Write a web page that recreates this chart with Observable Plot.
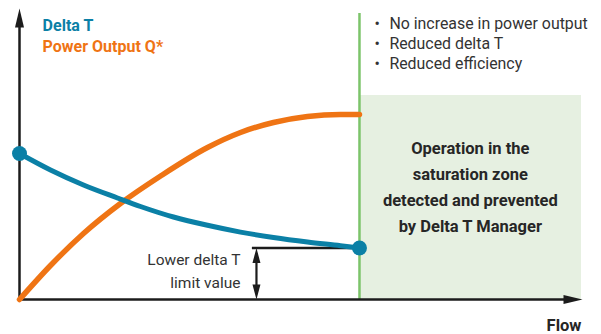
<!DOCTYPE html>
<html>
<head>
<meta charset="utf-8">
<script src="https://cdn.jsdelivr.net/npm/d3@7"></script>
<script src="https://cdn.jsdelivr.net/npm/@observablehq/plot@0.6"></script>
<style>
  html, body { margin: 0; padding: 0; background: #fff; }
  #chart svg { display: block; }
</style>
</head>
<body>
<div id="chart"></div>
<script>
// Flow on the x axis (100 = start of the saturation zone), relative values on y
const powerFlow   = [0, 9.12, 18.82, 29.7, 41.5, 55.3, 65, 74.7, 84.7, 94.4, 100];
const powerOutput = [0, 11.68, 22.68, 32.99, 42.44, 52.23, 57.39, 60.82, 62.89, 63.57, 63.57];

const deltaFlow   = [0, 9.12, 18.82, 28.82, 35.59, 45.29, 55.29, 65, 74.71, 84.71, 94.41, 100];
const deltaT      = [50.17, 44.5, 39.35, 34.88, 31.96, 28.35, 25.5, 23.16, 21.31, 19.76, 18.49, 17.7];

const seriesLabels = ["Delta T", "Power Output Q*"];
const notes = ["No increase in power output", "Reduced delta T", "Reduced efficiency"];
const zoneText = ["Operation in the", "saturation zone", "detected and prevented", "by Delta T Manager"];
const limitLabel = ["Lower delta T", "limit value"];
const axisTitle = "Flow";

const blue = "#0b80a6";
const orange = "#ef7414";
const green = "#7cc46a";
const zoneFill = "#e6f0e1";
const ink = "#1c1c1c";
const textGrey = "#333333";

const xMax = 165.6;
const yMax = 100;
const saturation = deltaFlow[deltaFlow.length - 1];
const lowerLimit = deltaT[deltaT.length - 1];

const power = powerFlow.map((f, i) => ({flow: f, value: powerOutput[i]}));
const delta = deltaFlow.map((f, i) => ({flow: f, value: deltaT[i]}));

// filled, elongated arrowhead with its tip at the origin, pointing up
const head = (len, half) => ({
  draw(ctx) {
    ctx.moveTo(0, 0);
    ctx.lineTo(-half, len);
    ctx.lineTo(half, len);
    ctx.closePath();
  }
});
const axisHead = head(19, 4.5);
const dimHead = head(15, 4);

const font = "Roboto, 'Noto Sans', sans-serif";

const chart = Plot.plot({
  width: 601,
  height: 334,
  marginLeft: 19,
  marginRight: 19,
  marginTop: 8,
  marginBottom: 35,
  x: {domain: [0, xMax], axis: null},
  y: {domain: [0, yMax], axis: null},
  style: {fontFamily: font, background: "#fff", overflow: "visible"},
  marks: [
    // saturation zone
    Plot.rect([0], {x1: saturation, x2: 165.3, y1: 0, y2: 70.1, fill: zoneFill}),
    Plot.ruleX([saturation], {y1: 0, y2: 98.3, stroke: green, strokeWidth: 2.5}),

    // axes with arrowheads
    Plot.ruleY([0], {x1: 0, x2: xMax - 4, stroke: ink, strokeWidth: 2.5}),
    Plot.ruleX([0], {y1: 0, y2: yMax - 4, stroke: ink, strokeWidth: 2.5}),
    Plot.dot([0], {x: xMax, y: 0, symbol: axisHead, rotate: 90, fill: ink, stroke: "none"}),
    Plot.dot([0], {x: 0, y: yMax, symbol: axisHead, rotate: 0, fill: ink, stroke: "none"}),

    // lower delta T limit and its dimension arrow
    Plot.ruleY([lowerLimit], {x1: 68.5, x2: saturation, stroke: ink, strokeWidth: 2.5}),
    Plot.ruleX([69.7], {y1: 2, y2: lowerLimit - 2, stroke: ink, strokeWidth: 2.2}),
    Plot.dot([0], {x: 69.7, y: lowerLimit, symbol: dimHead, rotate: 0, fill: ink, stroke: "none"}),
    Plot.dot([0], {x: 69.7, y: 0, symbol: dimHead, rotate: 180, fill: ink, stroke: "none"}),

    // curves
    Plot.line(power, {x: "flow", y: "value", stroke: orange, strokeWidth: 5.5, curve: "monotone-x"}),
    Plot.line(delta, {x: "flow", y: "value", stroke: blue, strokeWidth: 5, curve: "monotone-x"}),
    Plot.dot([delta[0], delta[delta.length - 1]], {x: "flow", y: "value", r: 7.5, fill: blue, stroke: "none"}),

    // series labels
    Plot.text(seriesLabels, {
      x: 6.8, y: (d, i) => 92.1 - i * 7.2, text: d => d,
      fill: (d, i) => [blue, orange][i],
      textAnchor: "start", lineAnchor: "bottom",
      fontSize: 16, fontWeight: "bold"
    }),

    // notes on the saturation zone
    Plot.text(notes, {
      x: 105.2, y: (d, i) => 93.1 - i * 6.87, text: () => "•",
      fill: textGrey, textAnchor: "middle", lineAnchor: "bottom", fontSize: 15.9
    }),
    Plot.text(notes, {
      x: 108.8, y: (d, i) => 93.1 - i * 6.87, text: d => d,
      fill: textGrey, textAnchor: "start", lineAnchor: "bottom", fontSize: 15.9
    }),

    Plot.text(zoneText, {
      x: 132.6, y: (d, i) => 50.1 - i * 8.93, text: d => d,
      fill: "#262626", textAnchor: "middle", lineAnchor: "bottom",
      fontSize: 16.5, fontWeight: "bold"
    }),

    Plot.text(limitLabel, {
      x: 65, y: (d, i) => 11.7 - i * 7.6, text: d => d,
      fill: textGrey, textAnchor: "end", lineAnchor: "bottom", fontSize: 15.5
    }),

    Plot.text([axisTitle], {
      x: 165.3, y: -10.9, text: d => d,
      fill: "#262626", textAnchor: "end", lineAnchor: "bottom",
      fontSize: 16.5, fontWeight: "bold"
    })
  ]
});

document.getElementById("chart").appendChild(chart);
</script>
</body>
</html>
